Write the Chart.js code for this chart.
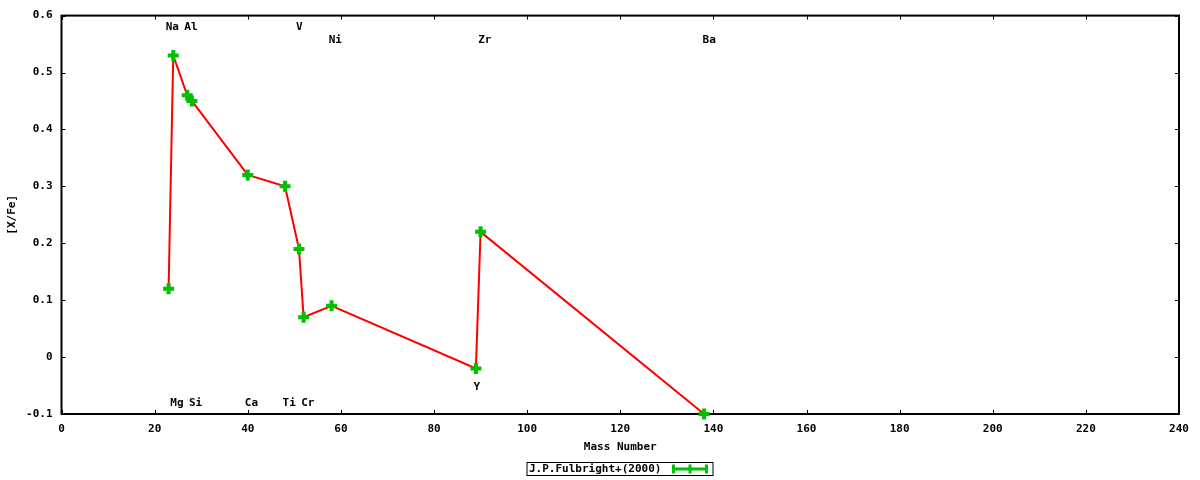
<!DOCTYPE html>
<html>
<head>
<meta charset="utf-8">
<script src="https://cdn.jsdelivr.net/npm/chart.js@4/dist/chart.umd.min.js"></script>
<style>
html,body{margin:0;padding:0;background:#fff;}
#wrap{width:1200px;height:480px;}
</style>
</head>
<body>
<div id="wrap"><canvas id="c" width="1200" height="480"></canvas></div>
<script>
// ---- data ----
const massNumbers = [23, 24, 27, 28, 40, 48, 51, 52, 58, 89, 90, 138];
const xFe = [0.12, 0.53, 0.46, 0.45, 0.32, 0.30, 0.19, 0.07, 0.09, -0.02, 0.22, -0.10];
const seriesName = 'J.P.Fulbright+(2000)';
const labelNames = ['Na', 'Al', 'V', 'Ni', 'Zr', 'Ba', 'Mg', 'Si', 'Ca', 'Ti', 'Cr', 'Y'];
const labelX = [23.8, 27.8, 51.1, 58.8, 90.9, 139.1, 24.8, 28.8, 40.8, 48.9, 52.9, 89.2];
const labelY = [0.579, 0.579, 0.579, 0.557, 0.557, 0.557, -0.081, -0.081, -0.081, -0.081, -0.081, -0.052];
const xTitle = 'Mass Number';
const yTitle = '[X/Fe]';

const FONT = {family: "'DejaVu Sans Mono', monospace", size: 11, weight: 'bold'};
const FONTSTR = "bold 11px 'DejaVu Sans Mono', monospace";
const GREEN = '#00c000';
const RED = '#ff0000';

const gnuplotPlugin = {
  id: 'gnuplotDecor',
  beforeDatasetsDraw(chart) {
    const {ctx, chartArea: a, scales: {x, y}} = chart;
    ctx.save();
    ctx.strokeStyle = '#000';
    ctx.lineWidth = 2;
    ctx.strokeRect(a.left, a.top, a.right - a.left, a.bottom - a.top);
    ctx.lineWidth = 1;
    const tl = 4;
    x.ticks.forEach(t => {
      const px = Math.round(x.getPixelForValue(t.value)) + 0.5;
      ctx.beginPath();
      ctx.moveTo(px, a.bottom); ctx.lineTo(px, a.bottom - tl);
      ctx.moveTo(px, a.top); ctx.lineTo(px, a.top + tl);
      ctx.stroke();
    });
    y.ticks.forEach(t => {
      const py = Math.round(y.getPixelForValue(t.value)) + 0.5;
      ctx.beginPath();
      ctx.moveTo(a.left, py); ctx.lineTo(a.left + tl, py);
      ctx.moveTo(a.right, py); ctx.lineTo(a.right - tl, py);
      ctx.stroke();
    });
    ctx.restore();
  },
  afterDraw(chart) {
    const {ctx, chartArea: a, scales: {x, y}} = chart;
    ctx.save();
    ctx.font = FONTSTR;
    ctx.fillStyle = '#000';
    ctx.textAlign = 'center';
    ctx.textBaseline = 'middle';
    labelNames.forEach((n, i) => {
      ctx.fillText(n, x.getPixelForValue(labelX[i]), y.getPixelForValue(labelY[i]));
    });
    // legend
    const boxL = 527, boxR = 713, boxT = 462.5, boxB = 475.5;
    ctx.strokeStyle = '#000';
    ctx.lineWidth = 1;
    ctx.strokeRect(boxL, boxT, boxR - boxL, boxB - boxT);
    ctx.textAlign = 'left';
    ctx.fillText(seriesName, boxL + 2, (boxT + boxB) / 2 + 0.5);
    const sx0 = 672, sx1 = 708, sy = 469;
    ctx.strokeStyle = GREEN;
    ctx.lineWidth = 3;
    ctx.beginPath();
    ctx.moveTo(sx0, sy); ctx.lineTo(sx1, sy);
    ctx.moveTo(sx0 + 1.5, sy - 4.5); ctx.lineTo(sx0 + 1.5, sy + 4.5);
    ctx.moveTo(sx1 - 1.5, sy - 4.5); ctx.lineTo(sx1 - 1.5, sy + 4.5);
    ctx.moveTo((sx0 + sx1) / 2, sy - 4.5); ctx.lineTo((sx0 + sx1) / 2, sy + 4.5);
    ctx.stroke();
    ctx.restore();
  }
};

new Chart(document.getElementById('c'), {
  type: 'line',
  data: {
    datasets: [{
      label: seriesName,
      data: massNumbers.map((m, i) => ({x: m, y: xFe[i]})),
      borderColor: RED,
      borderWidth: 2,
      tension: 0,
      fill: false,
      clip: false,
      pointStyle: 'cross',
      pointRadius: 5.5,
      pointHoverRadius: 5.5,
      pointBorderWidth: 4,
      pointBorderColor: GREEN,
      pointBackgroundColor: GREEN
    }]
  },
  plugins: [gnuplotPlugin],
  options: {
    responsive: false,
    animation: false,
    devicePixelRatio: 1,
    events: [],
    layout: {padding: {top: 14, right: 21, left: 0, bottom: 0}},
    plugins: {legend: {display: false}, tooltip: {enabled: false}},
    scales: {
      x: {
        type: 'linear',
        min: 0, max: 240,
        grid: {display: false, drawTicks: false},
        border: {display: false},
        ticks: {stepSize: 20, autoSkip: false, maxRotation: 0, padding: 9, color: '#000', font: FONT},
        title: {display: true, text: xTitle, color: '#000', font: FONT, padding: {top: 0, bottom: 26}},
        afterFit(s) { s.height = 66; }
      },
      y: {
        type: 'linear',
        min: -0.1, max: 0.6,
        grid: {display: false, drawTicks: false},
        border: {display: false},
        ticks: {stepSize: 0.1, autoSkip: false, padding: 9, color: '#000', font: FONT,
          callback: v => String(Math.round(v * 10) / 10)},
        title: {display: true, text: yTitle, color: '#000', font: FONT, padding: {top: 6, bottom: 0}},
        afterFit(s) { s.width = 61.5; }
      }
    }
  }
});
</script>
</body>
</html>
